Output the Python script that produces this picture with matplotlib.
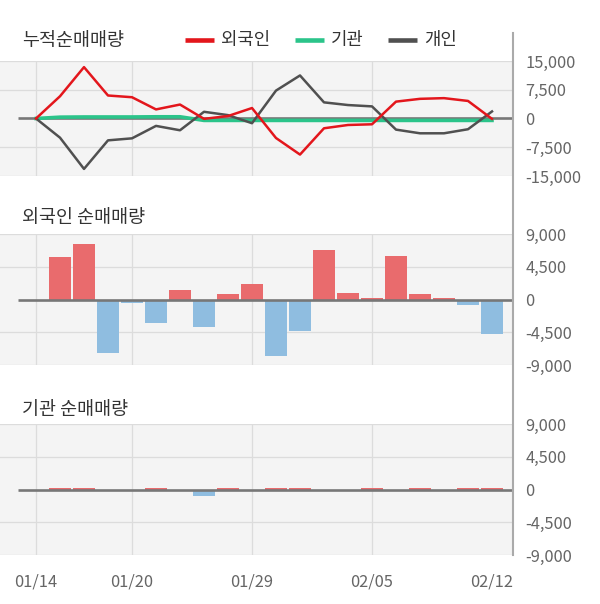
import matplotlib
matplotlib.use("Agg")
import matplotlib.pyplot as plt
from matplotlib.lines import Line2D

plt.rcParams['font.family'] = ['Noto Sans CJK KR', 'DejaVu Sans']

# ---------------- data ----------------
dates = ['01/14', '01/15', '01/16', '01/17', '01/20', '01/21', '01/22', '01/23',
         '01/28', '01/29', '01/30', '01/31', '02/03', '02/04', '02/05', '02/06',
         '02/07', '02/10', '02/11', '02/12']
tick_dates = ['01/14', '01/20', '01/29', '02/05', '02/12']
grid_dates = ['01/14', '01/20', '01/29', '02/05']

# cumulative net buying (누적순매매량)
foreign_cum = [0, 5800, 13400, 6000, 5550, 2370, 3640, -90, 640, 2730,
               -5090, -9410, -2550, -1690, -1510, 4400, 5130, 5310, 4580, -100]
inst_cum = [0, 350, 400, 400, 400, 450, 450, -500, -500, -500,
            -500, -500, -500, -500, -500, -500, -500, -500, -500, -500]
indiv_cum = [0, -5000, -13150, -5700, -5175, -1930, -3070, 1750, 880, -1230,
             7280, 11230, 4210, 3510, 3160, -2900, -3860, -3860, -2800, 1840]

# daily net buying
foreign_daily = [0, 5800, 7600, -7400, -450, -3180, 1270, -3730, 730, 2090,
                 -7820, -4320, 6860, 860, 180, 5910, 730, 180, -730, -4680]
inst_daily = [0, 150, 150, 0, 0, 150, 0, -950, 150, 0,
              150, 150, 0, 0, 150, 0, 150, 0, 150, 150]

cum_ticks = [15000, 7500, 0, -7500, -15000]
cum_labels = ['15,000', '7,500', '0', '-7,500', '-15,000']
day_ticks = [9000, 4500, 0, -4500, -9000]
day_labels = ['9,000', '4,500', '0', '-4,500', '-9,000']

# ---------------- style ----------------
W, H = 600, 604
BG = '#f4f4f4'
GRID = '#dcdcdc'
ZERO = '#777777'
RED_LINE = '#e3161c'
GREEN_LINE = '#2bc48a'
GRAY_LINE = '#505050'
RED_BAR = '#e96b6d'
BLUE_BAR = '#8fbde0'
TXT = '#333333'
TICK = '#666666'
TICK_FS = 11.8
TITLE_FS = 13.3
LEG_FS = 12.8

fig = plt.figure(figsize=(W / 100, H / 100), dpi=100)
fig.patch.set_facecolor('white')

x = list(range(len(dates)))
XL = (-1.5, 19.875)


def panel(top, bottom):
    return fig.add_axes([0, 1 - bottom / H, 513 / W, (bottom - top) / H])


def style(ax, ticks, labels, lim):
    ax.set_facecolor(BG)
    ax.set_xlim(*XL)
    ax.set_ylim(-lim, lim)
    for s in ax.spines.values():
        s.set_visible(False)
    ax.yaxis.tick_right()
    ax.set_yticks(ticks)
    ax.set_yticklabels(labels)
    ax.tick_params(axis='y', length=0, pad=9, labelsize=TICK_FS, labelcolor=TICK)
    ax.tick_params(axis='x', length=0)
    for t in ticks:
        if t != 0:
            ax.axhline(t, color=GRID, lw=0.9, zorder=0.5)
    for d in grid_dates:
        ax.axvline(dates.index(d), color=GRID, lw=0.9, zorder=0.5)
    ax.plot([-0.75, XL[1]], [0, 0], color=ZERO, lw=1.9, zorder=2,
            solid_capstyle='butt')


# top: cumulative
ax1 = panel(61, 176)
style(ax1, cum_ticks, cum_labels, 15000)
ax1.set_xticks([])
ax1.plot(x, inst_cum, color=GREEN_LINE, lw=2.6, zorder=3)
ax1.plot(x, indiv_cum, color=GRAY_LINE, lw=1.8, zorder=4)
ax1.plot(x, foreign_cum, color=RED_LINE, lw=1.8, zorder=5)

# middle: foreign daily
ax2 = panel(234, 365)
style(ax2, day_ticks, day_labels, 9000)
ax2.set_xticks([])
ax2.bar(x, foreign_daily, width=0.95,
        color=[RED_BAR if v >= 0 else BLUE_BAR for v in foreign_daily], zorder=1.5)

# bottom: institution daily
ax3 = panel(424, 555)
style(ax3, day_ticks, day_labels, 9000)
ax3.bar(x, inst_daily, width=0.95,
        color=[RED_BAR if v >= 0 else BLUE_BAR for v in inst_daily], zorder=1.5)
ax3.set_xticks([dates.index(d) for d in tick_dates])
ax3.set_xticklabels(tick_dates)
ax3.tick_params(axis='x', length=0, pad=13, labelsize=TICK_FS, labelcolor=TICK)

# right axis line through all panels
fig.add_artist(Line2D([513 / W, 513 / W], [1 - 33 / H, 1 - 555 / H],
                      color='#aaaaaa', lw=1.5, transform=fig.transFigure))

# titles
fig.text(22 / W, 1 - 41 / H, '누적순매매량', fontsize=TITLE_FS, color=TXT, va='center')
fig.text(22 / W, 1 - 218 / H, '외국인 순매매량', fontsize=TITLE_FS, color=TXT, va='center')
fig.text(22 / W, 1 - 410 / H, '기관 순매매량', fontsize=TITLE_FS, color=TXT, va='center')

# legend
leg_items = [('외국인', RED_LINE, 185), ('기관', GREEN_LINE, 295), ('개인', GRAY_LINE, 388)]
ly = 1 - 40 / H
for label, col, x0 in leg_items:
    fig.add_artist(Line2D([x0 / W, (x0 + 29) / W], [ly, ly], color=col, lw=3.3,
                          transform=fig.transFigure, solid_capstyle='butt'))
    fig.text((x0 + 36) / W, ly, label, fontsize=LEG_FS, color=TXT, va='center')

fig.savefig('out.png', dpi=100, facecolor='white')
